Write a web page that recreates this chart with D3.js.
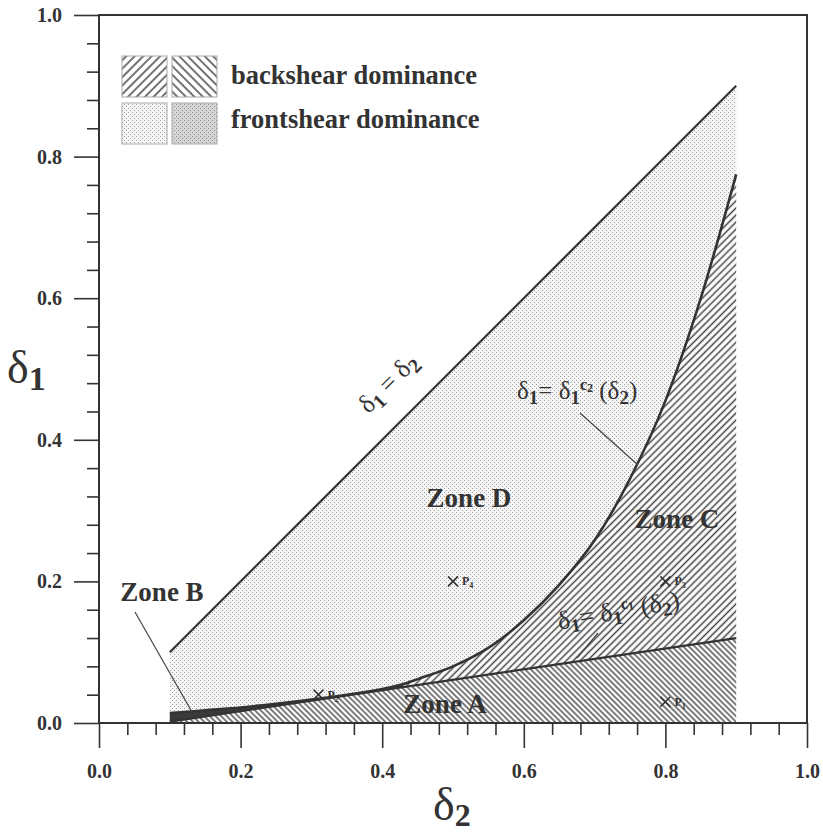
<!DOCTYPE html>
<html>
<head>
<meta charset="utf-8">
<script src="https://cdn.jsdelivr.net/npm/d3@7"></script>
<style>
  body { margin: 0; background: #fff; }
  text { font-family: "Liberation Serif", "Times New Roman", serif; fill: #333; }
</style>
</head>
<body>
<script>
var width = 823;
var height = 834;

// boundary delta1 = delta2
var diagD2 = [0.1, 0.9];
var diagD1 = [0.1, 0.9];
// boundary delta1 = delta1^c1(delta2), straight
var c1D2 = [0.1, 0.9];
var c1D1 = [0.002, 0.12];
// boundary delta1 = delta1^c2(delta2)
var c2D2 = [0.10, 0.15, 0.20, 0.25, 0.30, 0.35, 0.40, 0.43, 0.45, 0.50, 0.55, 0.60, 0.65, 0.70, 0.75, 0.80, 0.85, 0.90];
var c2D1 = [0.014, 0.018, 0.022, 0.027, 0.033, 0.040, 0.048, 0.055, 0.062, 0.080, 0.106, 0.145, 0.195, 0.258, 0.345, 0.455, 0.600, 0.775];
var zoneBEnd = 0.43;
// sample points
var pointNames = ["1", "2", "3", "4"];
var pointD2 = [0.8, 0.31, 0.8, 0.5];
var pointD1 = [0.03, 0.04, 0.2, 0.2];
// axes
var majorTicks = [0, 0.2, 0.4, 0.6, 0.8, 1.0];
var minorTicks = [0.04, 0.08, 0.12, 0.16, 0.24, 0.28, 0.32, 0.36, 0.44, 0.48, 0.52, 0.56, 0.64, 0.68, 0.72, 0.76, 0.84, 0.88, 0.92, 0.96];
var legendLabels = ["backshear dominance", "frontshear dominance"];

var x = d3.scaleLinear().domain([0, 1]).range([99, 807]);
var y = d3.scaleLinear().domain([0, 1]).range([723, 15]);
var diag = d3.scaleLinear().domain(diagD2).range(diagD1);
var c1 = d3.scaleLinear().domain(c1D2).range(c1D1);

var svg = d3.select("body").append("svg")
            .attr("width", width)
            .attr("height", height);
var defs = svg.append("defs");

// hatch and dot fills
function hatch(id, angle, gap, w) {
  var p = defs.append("pattern")
    .attr("id", id)
    .attr("patternUnits", "userSpaceOnUse")
    .attr("width", gap).attr("height", gap)
    .attr("patternTransform", "rotate(" + angle + ")");
  p.append("rect").attr("width", gap).attr("height", gap).attr("fill", "#fff");
  p.append("line")
    .attr("x1", gap / 2).attr("x2", gap / 2).attr("y1", 0).attr("y2", gap)
    .attr("stroke", "#444").attr("stroke-width", w);
}
function dots(id, bg, fg) {
  var p = defs.append("pattern")
    .attr("id", id)
    .attr("patternUnits", "userSpaceOnUse")
    .attr("width", 4).attr("height", 4);
  p.append("rect").attr("width", 4).attr("height", 4).attr("fill", bg);
  p.append("rect").attr("x", 0).attr("y", 0).attr("width", 1).attr("height", 1).attr("fill", fg);
  p.append("rect").attr("x", 2).attr("y", 2).attr("width", 1).attr("height", 1).attr("fill", fg);
}
hatch("fwd", 45, 5, 1.5);
hatch("back", -45, 4, 1.4);
hatch("fwdL", 45, 6, 1.5);
hatch("backL", -45, 6, 1.5);
dots("light", "#f6f6f6", "#a0a0a0");
dots("dark", "#d6d6d6", "#8a8a8a");

var c2pts = c2D2.map(function(d, i) { return [d, c2D1[i]]; });

// zones
var zoneD = d3.area()
  .x(function(d) { return x(d[0]); })
  .y0(function(d) { return y(d[1]); })
  .y1(function(d) { return y(diag(d[0])); })
  .curve(d3.curveMonotoneX);
svg.append("path").attr("d", zoneD(c2pts)).attr("fill", "url(#light)");

var zoneC = d3.area()
  .x(function(d) { return x(d[0]); })
  .y0(function(d) { return y(c1(d[0])); })
  .y1(function(d) { return y(d[1]); })
  .curve(d3.curveMonotoneX);
svg.append("path").attr("d", zoneC(c2pts)).attr("fill", "url(#fwd)");

var zoneA = d3.area()
  .x(function(d) { return x(d[0]); })
  .y0(y(0))
  .y1(function(d) { return y(d[1]); });
svg.append("path")
  .attr("d", zoneA(c1D2.map(function(d, i) { return [d, c1D1[i]]; })))
  .attr("fill", "url(#back)");

// zone B: thin dark sliver between the two lower boundaries
svg.append("path")
  .attr("d", zoneC(c2pts.filter(function(d) { return d[0] <= zoneBEnd; })))
  .attr("fill", "#3a3a3a");

// boundary lines
var line = d3.line()
  .x(function(d) { return x(d[0]); })
  .y(function(d) { return y(d[1]); });
svg.append("path")
  .attr("d", line(diagD2.map(function(d, i) { return [d, diagD1[i]]; })))
  .attr("fill", "none").attr("stroke", "#333").attr("stroke-width", 2.2);
svg.append("path")
  .attr("d", line(c1D2.map(function(d, i) { return [d, c1D1[i]]; })))
  .attr("fill", "none").attr("stroke", "#333").attr("stroke-width", 2.2);
svg.append("path")
  .attr("d", line.curve(d3.curveMonotoneX)(c2pts))
  .attr("fill", "none").attr("stroke", "#333").attr("stroke-width", 2.6);

// frame
svg.append("rect")
  .attr("x", x(0)).attr("y", y(1))
  .attr("width", x(1) - x(0)).attr("height", y(0) - y(1))
  .attr("fill", "none").attr("stroke", "#333").attr("stroke-width", 2);

// axes
function styleAxis(g) {
  g.select(".domain").remove();
  g.selectAll("line").attr("stroke", "#333").attr("stroke-width", 1.6);
  g.selectAll("text")
    .attr("font-family", "Liberation Serif, serif")
    .attr("font-weight", "bold")
    .attr("font-size", "20px")
    .attr("fill", "#333");
}
svg.append("g").attr("transform", "translate(0," + y(0) + ")")
  .call(d3.axisBottom(x).tickValues(minorTicks).tickSize(12).tickFormat(""))
  .call(styleAxis);
svg.append("g").attr("transform", "translate(0," + y(0) + ")")
  .call(d3.axisBottom(x).tickValues(majorTicks).tickSize(25).tickPadding(16).tickFormat(d3.format(".1f")))
  .call(styleAxis);
svg.append("g").attr("transform", "translate(" + x(0) + ",0)")
  .call(d3.axisLeft(y).tickValues(minorTicks).tickSize(12).tickFormat(""))
  .call(styleAxis);
svg.append("g").attr("transform", "translate(" + x(0) + ",0)")
  .call(d3.axisLeft(y).tickValues(majorTicks).tickSize(25).tickPadding(12).tickFormat(d3.format(".1f")))
  .call(styleAxis);

// rich text helper: parts are [text, dy, size, weight]
function rich(g, parts) {
  var t = g.append("text");
  parts.forEach(function(p) {
    t.append("tspan").text(p[0])
      .attr("dy", p[1] || 0)
      .attr("font-size", p[2] + "px")
      .attr("font-weight", p[3] || "normal");
  });
  return t;
}

// axis titles
rich(svg.append("g").attr("transform", "translate(7,383)"),
  [["δ", 0, 46], ["1", 7, 34, "bold"]]);
rich(svg.append("g").attr("transform", "translate(433,820)"),
  [["δ", 0, 46], ["2", 6, 32, "bold"]]);

// legend
var legend = svg.append("g");
[["fwdL", "backL"], ["light", "dark"]].forEach(function(row, r) {
  row.forEach(function(fill, c) {
    legend.append("rect")
      .attr("x", 122 + c * 50).attr("y", 56 + r * 47)
      .attr("width", 45).attr("height", 41)
      .attr("fill", "url(#" + fill + ")")
      .attr("stroke", "#aaa").attr("stroke-width", 1);
  });
  legend.append("text")
    .attr("x", 231).attr("y", 84 + r * 44)
    .attr("font-size", "26.5px").attr("font-weight", "bold")
    .text(legendLabels[r]);
});

// zone labels
var zones = [["Zone A", 445, 713], ["Zone B", 162, 601], ["Zone C", 677, 528], ["Zone D", 469, 507]];
svg.selectAll("text.zone")
  .data(zones)
  .enter()
  .append("text")
  .attr("class", "zone")
  .attr("x", function(d) { return d[1]; })
  .attr("y", function(d) { return d[2]; })
  .attr("text-anchor", "middle")
  .attr("font-size", "27px")
  .attr("font-weight", "bold")
  .text(function(d) { return d[0]; });

// leaders
var leaders = [[135, 612, 192, 712], [580, 413, 638, 465], [598, 633, 577, 658]];
svg.selectAll("line.leader")
  .data(leaders)
  .enter()
  .append("line")
  .attr("x1", function(d) { return d[0]; })
  .attr("y1", function(d) { return d[1]; })
  .attr("x2", function(d) { return d[2]; })
  .attr("y2", function(d) { return d[3]; })
  .attr("stroke", "#444")
  .attr("stroke-width", 1.2);

// curve labels
var lab1 = rich(svg.append("g").attr("transform", "translate(394,389) rotate(-45)"),
  [["δ", 0, 26], ["1", 5, 20, "bold"], [" = ", -5, 26], ["δ", 0, 26], ["2", 5, 20, "bold"]]);
lab1.attr("text-anchor", "middle");

rich(svg.append("g").attr("transform", "translate(517,399)"),
  [["δ", 0, 25], ["1", 5, 19, "bold"], ["= δ", -5, 25], ["1", 5, 19, "bold"],
   ["c", -14, 16, "bold"], ["2", 2, 12, "bold"], [" (δ", 7, 25], ["2", 5, 19, "bold"], [")", -5, 25]]);

var lab3 = rich(svg.append("g").attr("transform", "translate(620,619) rotate(-10)"),
  [["δ", 0, 26], ["1", 5, 19, "bold"], ["= δ", -5, 26], ["1", 5, 19, "bold"],
   ["c", -14, 16, "bold"], ["1", 2, 12, "bold"], [" (δ", 7, 26], ["2", 5, 19, "bold"], [")", -5, 26]]);
lab3.attr("text-anchor", "middle");

// sample points
var pts = svg.selectAll("g.pt")
  .data(pointNames)
  .enter()
  .append("g")
  .attr("class", "pt")
  .attr("transform", function(d, i) { return "translate(" + x(pointD2[i]) + "," + y(pointD1[i]) + ")"; });
pts.append("path")
  .attr("d", "M-5,-5L5,5M-5,5L5,-5")
  .attr("stroke", "#333").attr("stroke-width", 1.6);
pts.each(function(d) {
  rich(d3.select(this).append("g").attr("transform", "translate(9,4)"),
    [["P", 0, 12, "bold"], [d, 3, 8, "bold"]]);
});
</script>
</body>
</html>
